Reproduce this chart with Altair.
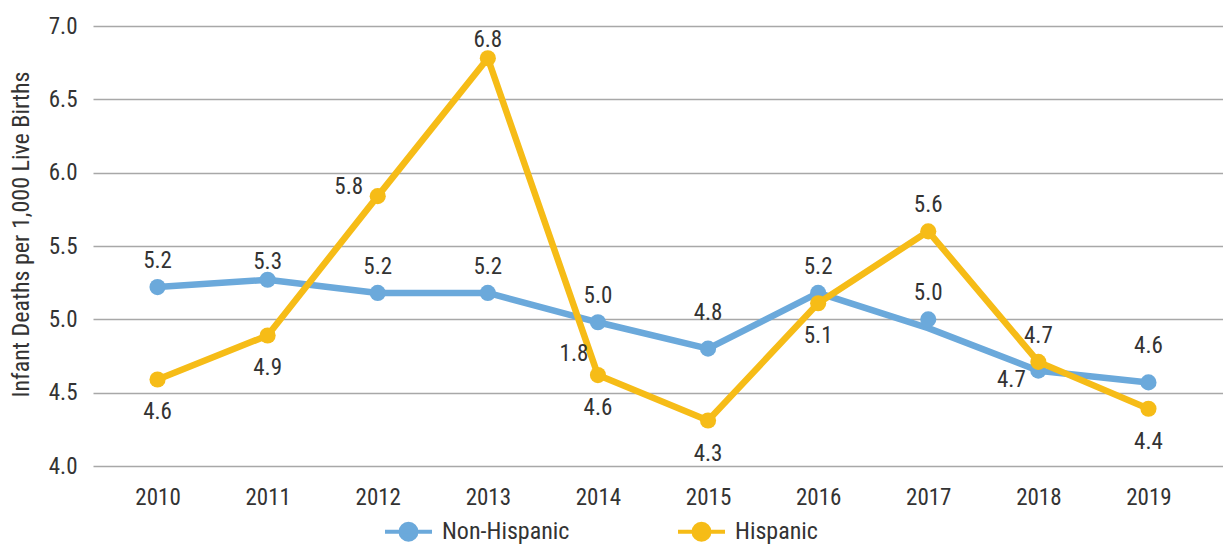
import altair as alt
import pandas as pd

# ---------------- data ----------------
years = [2010, 2011, 2012, 2013, 2014, 2015, 2016, 2017, 2018, 2019]
series_names = ["Non-Hispanic", "Hispanic"]

non_hispanic_points = [5.22, 5.27, 5.18, 5.18, 4.98, 4.80, 5.18, 5.00, 4.65, 4.57]
# the drawn line passes below the 2017 marker in the reference
non_hispanic_line = [5.22, 5.27, 5.18, 5.18, 4.98, 4.80, 5.18, 4.94, 4.65, 4.57]
hispanic_points = [4.59, 4.89, 5.84, 6.78, 4.62, 4.31, 5.11, 5.60, 4.71, 4.39]
hispanic_line = [4.59, 4.89, 5.84, 6.78, 4.62, 4.31, 5.11, 5.60, 4.71, 4.39]

non_hispanic_labels = ["5.2", "5.3", "5.2", "5.2", "5.0", "4.8", "5.2", "5.0", "4.7", "4.6"]
non_hispanic_label_side = ["above", "near", "above", "above", "above", "high", "above", "above", "belowleft", "high"]
hispanic_labels = ["4.6", "4.9", "5.8", "6.8", "4.6", "4.3", "5.1", "5.6", "4.7", "4.4"]
hispanic_label_side = ["below", "below", "left", "near", "below", "below", "below", "above", "above", "below"]
# stray extra label printed next to the 2014 Hispanic point
extra_label_year = [2014]
extra_label_text = ["1.8"]
extra_label_side = ["aboveleft"]

y_ticks = [4.0, 4.5, 5.0, 5.5, 6.0, 6.5, 7.0]
y_title = "Infant Deaths per 1,000 Live Births"

# ---------------- styles ----------------
FONT = "Roboto Condensed, Liberation Sans Narrow, DejaVu Sans Condensed, sans-serif"
TEXT = "#333333"
BLUE = "#6ba9db"
GOLD = "#f6bc17"
GRID = "#a8a8a8"
OFFSETS = {
    "above": (0, -26), "near": (0, -18), "high": (0, -36), "below": (0, 33),
    "left": (-29, -9), "belowleft": (-27, 9), "aboveleft": (-24, -21),
}
LEGEND_PATH = ("M-1,0L1,0M0.34,0A0.34,0.34,0,1,1,-0.34,0"
               "A0.34,0.34,0,1,1,0.34,0Z")

# ---------------- tables ----------------
line_df = pd.DataFrame({
    "year": years * 2,
    "value": non_hispanic_line + hispanic_line,
    "series": [series_names[0]] * len(years) + [series_names[1]] * len(years),
})
point_df = pd.DataFrame({
    "year": years * 2,
    "value": non_hispanic_points + hispanic_points,
    "series": [series_names[0]] * len(years) + [series_names[1]] * len(years),
})
lookup_h = dict(zip(years, hispanic_points))
label_df = pd.DataFrame({
    "year": years * 2 + extra_label_year,
    "value": non_hispanic_points + hispanic_points + [lookup_h[y] for y in extra_label_year],
    "label": non_hispanic_labels + hispanic_labels + extra_label_text,
    "side": non_hispanic_label_side + hispanic_label_side + extra_label_side,
})

x_scale = alt.Scale(domain=[2009.414, 2019.677], nice=False, zero=False)
y_scale = alt.Scale(domain=[4, 7], nice=False, zero=False)

x_enc = alt.X("year:Q", scale=x_scale, axis=alt.Axis(
    values=years, format="d", title=None, grid=False, domain=False,
    ticks=False, tickSize=0, labelFlush=False, labelFont=FONT,
    labelFontSize=23, labelColor=TEXT, labelPadding=31,
    labelBaseline="middle"))
y_enc = alt.Y("value:Q", scale=y_scale, axis=alt.Axis(
    values=y_ticks, format=".1f", title=y_title, grid=True,
    gridColor=GRID, gridWidth=1.5, domain=False, ticks=False, tickSize=0,
    labelFont=FONT, labelFontSize=23, labelColor=TEXT, labelPadding=16,
    labelFlush=False, titleFont=FONT, titleFontSize=24, titleColor=TEXT,
    titleFontWeight="normal", titleAngle=-90, titleX=-72, titleY=208,
    titleAlign="center", titleBaseline="middle"))

legend = alt.Legend(
    title=None, orient="none", direction="horizontal", legendX=290,
    legendY=480, symbolType=LEGEND_PATH, symbolSize=2209,
    symbolStrokeWidth=4, labelFont=FONT, labelFontSize=24,
    labelColor=TEXT, labelOffset=8, columnPadding=100, padding=0,
    symbolOpacity=1)

color_scale = alt.Scale(domain=series_names, range=[BLUE, GOLD])

layers = []
for name in series_names:
    line = alt.Chart(line_df).transform_filter(
        alt.datum.series == name
    ).mark_line(strokeWidth=6.5, strokeJoin="round").encode(
        x=x_enc, y=y_enc,
        color=alt.Color("series:N", scale=color_scale, legend=legend),
    )
    pts = alt.Chart(point_df).transform_filter(
        alt.datum.series == name
    ).mark_point(filled=True, size=260, opacity=1, shape="circle").encode(
        x=x_enc, y=y_enc,
        fill=alt.Fill("series:N", scale=color_scale, legend=legend),
    )
    layers += [line, pts]

for side, (dx, dy) in OFFSETS.items():
    layers.append(
        alt.Chart(label_df).transform_filter(alt.datum.side == side)
        .mark_text(dx=dx, dy=dy, font=FONT, fontSize=23, color=TEXT,
                   align="center", baseline="middle")
        .encode(x=x_enc, y=y_enc, text="label:N")
    )

chart = alt.layer(*layers).properties(
    width=1130, height=440,
    autosize=alt.AutoSizeParams(type="none"),
    padding={"left": 85, "top": 18, "right": 0, "bottom": 78},
    background="white",
).configure_view(stroke=None)

chart.save("out.html", embed_options={"renderer": "svg", "actions": False})
